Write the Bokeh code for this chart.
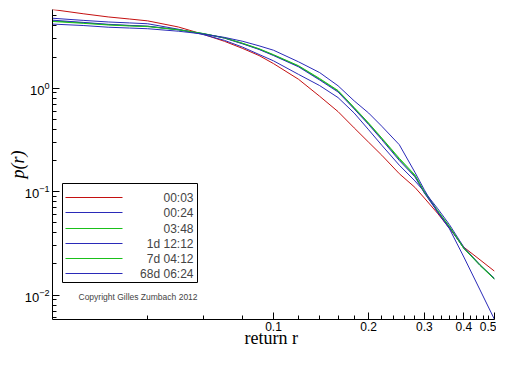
from bokeh.plotting import figure
from bokeh.models import (Range1d, FixedTicker, LogTickFormatter, PrintfTickFormatter,
                          Label, BoxAnnotation, Arrow)
from bokeh.embed import file_html
from bokeh.resources import INLINE

# ---- data ----
returns = [0.02, 0.025, 0.03, 0.035, 0.04, 0.05, 0.06, 0.07, 0.08, 0.09, 0.10,
           0.12, 0.14, 0.16, 0.18, 0.20, 0.22, 0.25, 0.28, 0.30, 0.33, 0.36, 0.40, 0.45, 0.50]

p_0003 = [5.77, 5.25, 4.89, 4.67, 4.48, 3.91, 3.32, 2.84, 2.42, 2.07, 1.73,
          1.22, 0.835, 0.594, 0.413, 0.300, 0.225, 0.149, 0.110, 0.0867, 0.0619, 0.0443, 0.0290, 0.0219, 0.0170]
p_0024 = [4.75, 4.53, 4.37, 4.28, 4.20, 3.72, 3.30, 2.90, 2.49, 2.12, 1.84,
          1.36, 1.06, 0.812, 0.575, 0.396, 0.281, 0.180, 0.127, 0.100, 0.069, 0.048, 0.029, 0.0196, 0.0142]
p_0348 = [4.48, 4.29, 4.12, 4.03, 3.97, 3.68, 3.38, 3.06, 2.70, 2.39, 2.09,
          1.63, 1.22, 0.937, 0.641, 0.452, 0.325, 0.205, 0.142, 0.098, 0.0648, 0.0457, 0.0284, 0.0196, 0.0145]
p_1d = [4.55, 4.33, 4.15, 4.05, 3.98, 3.68, 3.36, 3.05, 2.68, 2.37, 2.07,
        1.61, 1.20, 0.92, 0.63, 0.445, 0.318, 0.200, 0.139, 0.097, 0.064, 0.045, 0.0283, 0.0194, 0.0144]
p_7d = [4.42, 4.24, 4.09, 4.00, 3.94, 3.67, 3.37, 3.07, 2.72, 2.41, 2.11,
        1.65, 1.24, 0.95, 0.65, 0.46, 0.33, 0.21, 0.145, 0.100, 0.066, 0.046, 0.0282, 0.0193, 0.0142]
p_68d = [4.17, 4.04, 3.89, 3.82, 3.76, 3.56, 3.34, 3.10, 2.84, 2.57, 2.33,
         1.80, 1.415, 1.056, 0.754, 0.575, 0.429, 0.284, 0.154, 0.104, 0.0634, 0.0438, 0.0233, 0.0112, 0.0058]

labels = ["00:03", "00:24", "03:48", "1d 12:12", "7d 04:12", "68d 06:24"]
series = [p_0003, p_0024, p_0348, p_1d, p_7d, p_68d]

x_major = [0.1, 0.2, 0.3, 0.4, 0.5]
x_minor = [0.04, 0.06, 0.08, 0.12, 0.14, 0.16, 0.18, 0.22, 0.24, 0.26, 0.28,
           0.32, 0.34, 0.36, 0.38, 0.42, 0.44, 0.46, 0.48]
y_major = [0.01, 0.1, 1.0]
y_minor = [0.006, 0.007, 0.008, 0.009, 0.02, 0.03, 0.04, 0.05, 0.06, 0.07, 0.08, 0.09,
           0.2, 0.3, 0.4, 0.5, 0.6, 0.7, 0.8, 0.9, 2, 3, 4, 5]

RED, BLUE, GREEN = "#c41010", "#2a2ab8", "#1ac01a"
colors = [RED, BLUE, GREEN, BLUE, GREEN, BLUE]

all_vals = [v for s in series for v in s]

FL, FT, FR, FB = 52, 9, 494, 320   # frame edges in canvas px
W, H = 496, 350

p = figure(width=W, height=H, x_axis_type="log", y_axis_type="log",
           x_range=Range1d(min(returns), max(returns)),
           y_range=Range1d(min(all_vals), max(all_vals)),
           output_backend="svg", toolbar_location=None,
           min_border_left=FL, min_border_right=W - FR, min_border_top=FT,
           min_border_bottom=H - FB)
p.outline_line_color = None
p.xgrid.visible = False
p.ygrid.visible = False
p.background_fill_color = "white"
p.border_fill_color = "white"

for s, c in zip(series, colors):
    p.line(returns, s, line_color=c, line_width=1)

for ax in (p.xaxis[0], p.yaxis[0]):
    ax.axis_line_color = "black"
    ax.major_tick_in = 7
    ax.major_tick_out = 0
    ax.minor_tick_in = 4
    ax.minor_tick_out = 0
    ax.major_tick_line_color = "black"
    ax.minor_tick_line_color = "black"
    ax.major_label_text_font = "Liberation Sans"
    ax.major_label_text_color = "black"
    ax.axis_label_text_font = "Liberation Serif"
    ax.axis_label_text_color = "black"

xa = p.xaxis[0]
xa.ticker = FixedTicker(ticks=x_major, minor_ticks=x_minor)
xa.formatter = PrintfTickFormatter(format="%.1f")
xa.major_label_text_font_size = "12px"
xa.major_label_standoff = 2
xa.axis_label = "return  r"
xa.axis_label_text_font_size = "18px"
xa.axis_label_text_font_style = "normal"
xa.axis_label_standoff = -6

ya = p.yaxis[0]
ya.ticker = FixedTicker(ticks=y_major, minor_ticks=y_minor)
ya.formatter = LogTickFormatter()
ya.major_label_text_font_size = "13px"
ya.major_label_standoff = 3
ya.axis_label = "p(r)"
ya.axis_label_text_font_size = "18px"
ya.axis_label_text_font_style = "italic"
ya.axis_label_standoff = -6

# helpers: canvas pixel (from top-left) -> frame-relative screen units
def sx(cx):
    return cx - FL
def sy(cy):
    return FB - cy

# legend box
p.add_layout(BoxAnnotation(left=sx(62), right=sx(197), top=sy(184), bottom=sy(283),
                           left_units="screen", right_units="screen",
                           top_units="screen", bottom_units="screen",
                           fill_color="white", fill_alpha=1.0,
                           line_color="black", line_width=1, line_alpha=1.0))
row_y = [198, 213, 229, 244, 259, 274]
for lab, c, ry in zip(labels, colors, row_y):
    p.add_layout(Arrow(end=None, x_start=sx(65), y_start=sy(ry), x_end=sx(122), y_end=sy(ry),
                       start_units="screen", end_units="screen", line_color=c, line_width=1))
    p.add_layout(Label(x=sx(193), y=sy(ry), x_units="screen", y_units="screen", text=lab,
                       text_align="right", text_baseline="middle",
                       text_font="Liberation Sans", text_font_size="12px"))

p.add_layout(Label(x=sx(78), y=sy(297), x_units="screen", y_units="screen",
                   text="Copyright Gilles Zumbach 2012", text_align="left", text_baseline="middle",
                   text_font="Liberation Sans", text_font_size="8.5px"))

open("out.html", "w").write(file_html(p, INLINE))
